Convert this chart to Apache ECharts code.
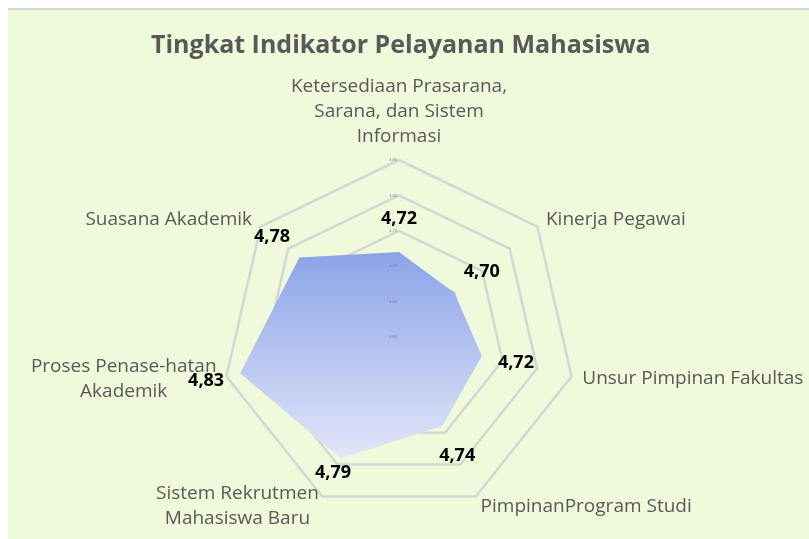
<!DOCTYPE html>
<html>
<head>
<meta charset="utf-8">
<script src="https://cdn.jsdelivr.net/npm/echarts@6/dist/echarts.min.js"></script>
<style>
  html, body { margin: 0; padding: 0; background: #fff; }
  #panel {
    position: absolute; left: 8px; top: 8px; width: 801px; height: 529px;
    border-top: 2px solid #d9d9d9; background: #eefad9;
  }
  #chart { width: 801px; height: 529px; }
</style>
</head>
<body>
<div id="panel"><div id="chart"></div></div>
<script>
// indicators, clockwise from the top as in the picture
const indicators = [
  'Ketersediaan Prasarana,\nSarana, dan Sistem\nInformasi',
  'Kinerja Pegawai',
  'Unsur Pimpinan Fakultas',
  'PimpinanProgram Studi',
  'Sistem Rekrutmen\nMahasiswa Baru',
  'Proses Penase-hatan\nAkademik',
  'Suasana Akademik'
]
const scores = [4.72, 4.70, 4.72, 4.74, 4.79, 4.83, 4.78]
const axisMin = 4.60
const axisMax = 4.85

// echarts radar goes counter-clockwise, so keep the first and flip the rest
const order = [0, ...indicators.slice(1).map((_, i) => indicators.length - 1 - i)]

const CX = 391, CY = 327 // centre inside the panel (panel is offset 8,10)
const R = 177

const fmt = v => Number(v).toFixed(2).replace('.', ',')

function nameFormatter(name) {
  const lines = name.split('\n')
  if (lines.length === 1) return name
  const key = name.startsWith('Proses') ? 'p' : name.startsWith('Sistem') ? 's' : 'k'
  return lines.map(l => '{' + key + '|' + l + '}').join('\n')
}

const nameFont = { fontFamily: 'Open Sans', fontSize: 19, color: '#595959', lineHeight: 25 }

const chart = echarts.init(document.getElementById('chart'))
chart.setOption({
  title: {
    text: 'Tingkat Indikator Pelayanan Mahasiswa',
    left: 138,
    top: 18,
    textStyle: { fontFamily: 'Open Sans', fontSize: 25, fontWeight: 'bold', color: '#595959' }
  },
  radar: [
    {
      center: [CX, CY],
      radius: R,
      startAngle: 90,
      splitNumber: 5,
      shape: 'polygon',
      indicator: order.map(i => ({ name: indicators[i], min: axisMin, max: axisMax })),
      axisName: Object.assign({}, nameFont, {
        formatter: nameFormatter,
        rich: {
          k: nameFont,
          p: Object.assign({ width: 184, align: 'center' }, nameFont),
          s: Object.assign({ width: 160, align: 'center' }, nameFont)
        }
      }),
      nameGap: 11,
      axisLine: { show: false },
      axisTick: { show: false },
      axisLabel: { show: false },
      splitArea: { show: false },
      splitLine: { lineStyle: { color: '#d6d6d6', width: 2.5 } }
    },
    {
      // single upright axis carrying the tiny value labels
      center: [CX, CY],
      radius: R,
      startAngle: 90,
      splitNumber: 5,
      shape: 'polygon',
      indicator: [{ name: '', min: axisMin, max: axisMax }],
      axisLine: { show: false },
      axisTick: { show: false },
      splitLine: { show: false },
      splitArea: { show: false },
      axisLabel: { show: true, fontSize: 4, color: '#7f7f7f', margin: 2, formatter: fmt },
      z: 5
    }
  ],
  series: [
    {
      type: 'radar',
      radarIndex: 0,
      symbol: 'circle',
      symbolSize: 2,
      itemStyle: { color: 'rgba(0,0,0,0)' },
      lineStyle: { width: 0 },
      areaStyle: {
        opacity: 1,
        color: new echarts.graphic.LinearGradient(0, 0, 0, 1, [
          { offset: 0, color: '#8ba3e8' },
          { offset: 1, color: '#e2e6f8' }
        ])
      },
      label: {
        show: true,
        fontFamily: 'Open Sans',
        fontSize: 18,
        fontWeight: 'bold',
        color: '#000',
        formatter: p => fmt(p.value)
      },
      labelLayout: p => {
        const x = p.rect.x + p.rect.width / 2
        const y = p.rect.y + p.rect.height / 2
        const dx = x - CX, dy = y - CY
        const len = Math.sqrt(dx * dx + dy * dy) || 1
        // the lower-left label sits tight against its corner, as in the original
        const k = dx < 0 && dy / len > 0.8 ? 0.5 : 1
        return { x: x + dx / len * 35 * k, y: y + dy / len * 33 * k, align: 'center', verticalAlign: 'middle' }
      },
      data: [{ value: order.map(i => scores[i]), name: 'Skor' }]
    }
  ]
})
</script>
</body>
</html>
